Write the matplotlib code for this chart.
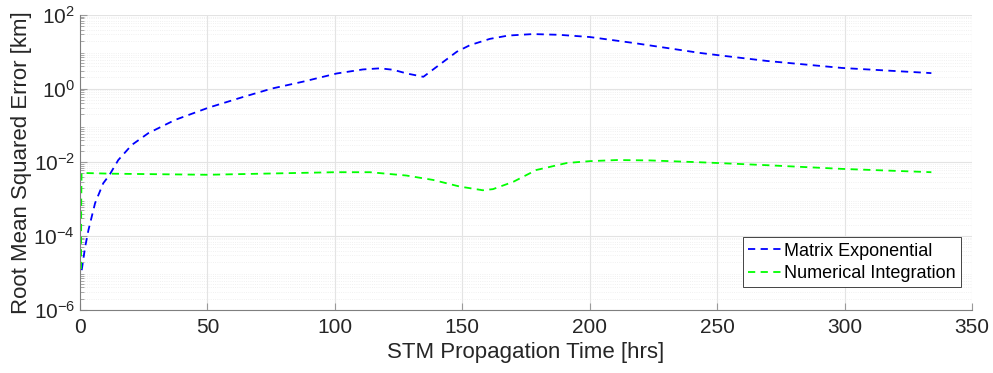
import numpy as np
import matplotlib
matplotlib.use("Agg")
import matplotlib.pyplot as plt
from matplotlib.ticker import LogLocator, FixedLocator, NullFormatter

plt.rcParams["font.family"] = ["Liberation Sans", "DejaVu Sans"]
plt.rcParams["mathtext.default"] = "regular"

# (hours, log10 of RMS error in km)
t_mexp = [0.65, 2.0, 3.3, 5.9, 9.1, 11.5, 15, 20.3, 26.8, 37.3, 50.3, 63.4,
          75.2, 87.6, 100.7, 111, 117.7, 122.9, 128.2, 134.7, 139.9, 147.8,
          153, 160.8, 168, 177.7, 188, 200, 217, 243, 250, 269.5, 299, 334]
log_mexp = [-4.93, -4.3, -3.84, -3.11, -2.57, -2.35, -1.94, -1.53, -1.21,
            -0.85, -0.52, -0.24, 0.0, 0.19, 0.41, 0.52, 0.55, 0.51, 0.41, 0.32,
            0.59, 1.0, 1.18, 1.35, 1.44, 1.48, 1.46, 1.40, 1.24, 0.97, 0.91,
            0.75, 0.56, 0.42]

t_nint = [0.4, 0.45, 0.6, 12, 50, 100, 107.9, 113.7, 128, 138.5, 149, 158,
          162, 170, 179, 191, 200, 210.6, 223.6, 243, 250, 269.5, 299, 334]
log_nint = [-4.9, -3.2, -2.29, -2.31, -2.34, -2.27, -2.27, -2.27, -2.36,
            -2.48, -2.66, -2.76, -2.73, -2.53, -2.21, -2.02, -1.97, -1.94,
            -1.95, -2.0, -2.02, -2.08, -2.18, -2.27]

x_ticks = [0, 50, 100, 150, 200, 250, 300, 350]
y_ticks = [1e-6, 1e-4, 1e-2, 1e0, 1e2]
y_labels = [r"$10^{-6}$", r"$10^{-4}$", r"$10^{-2}$", r"$10^{0}$", r"$10^{2}$"]

fig = plt.figure(figsize=(9.93, 3.73), dpi=100)
ax = fig.add_axes([0.0806, 0.170, 0.8984, 0.790])

ax.semilogy(t_mexp, 10 ** np.array(log_mexp), "--", color="#0000ff",
            lw=1.3, dashes=(4, 3), label="Matrix Exponential")
ax.semilogy(t_nint, 10 ** np.array(log_nint), "--", color="#00ff00",
            lw=1.3, dashes=(4, 3), label="Numerical Integration")

ax.set_xlim(0, 350)
ax.set_ylim(1e-6, 1e2)
ax.xaxis.set_major_locator(FixedLocator(x_ticks))
ax.yaxis.set_major_locator(FixedLocator(y_ticks))
ax.yaxis.set_minor_locator(LogLocator(base=10, subs=np.arange(2, 10), numticks=20))
ax.yaxis.set_minor_formatter(NullFormatter())
ax.set_yticklabels(y_labels)

ax.grid(True, which="major", color="#e3e3e3", lw=0.8)
ax.grid(True, which="minor", axis="y", color="#ececec", lw=0.6, ls=":")
ax.set_axisbelow(True)

for s in ["top", "right"]:
    ax.spines[s].set_visible(False)
for s in ["left", "bottom"]:
    ax.spines[s].set_color("#7f7f7f")

ax.tick_params(which="both", direction="in", colors="#262626",
               labelsize=15, length=5)
ax.tick_params(which="both", color="#9a9a9a")
ax.tick_params(which="minor", length=3)
ax.tick_params(axis="x", pad=6)

ax.set_xlabel("STM Propagation Time [hrs]", fontsize=16, color="#262626")
ax.set_ylabel("Root Mean Squared Error [km]", fontsize=16, color="#262626",
              labelpad=1)

leg = ax.legend(loc="lower right", bbox_to_anchor=(0.988, 0.075), fontsize=13,
                handlelength=1.9, handletextpad=0.1, borderpad=0.3,
                labelspacing=0.3, fancybox=False, framealpha=1,
                borderaxespad=0)
leg.get_frame().set_edgecolor("#262626")
leg.get_frame().set_linewidth(0.6)

fig.savefig("out.png", dpi=100)
